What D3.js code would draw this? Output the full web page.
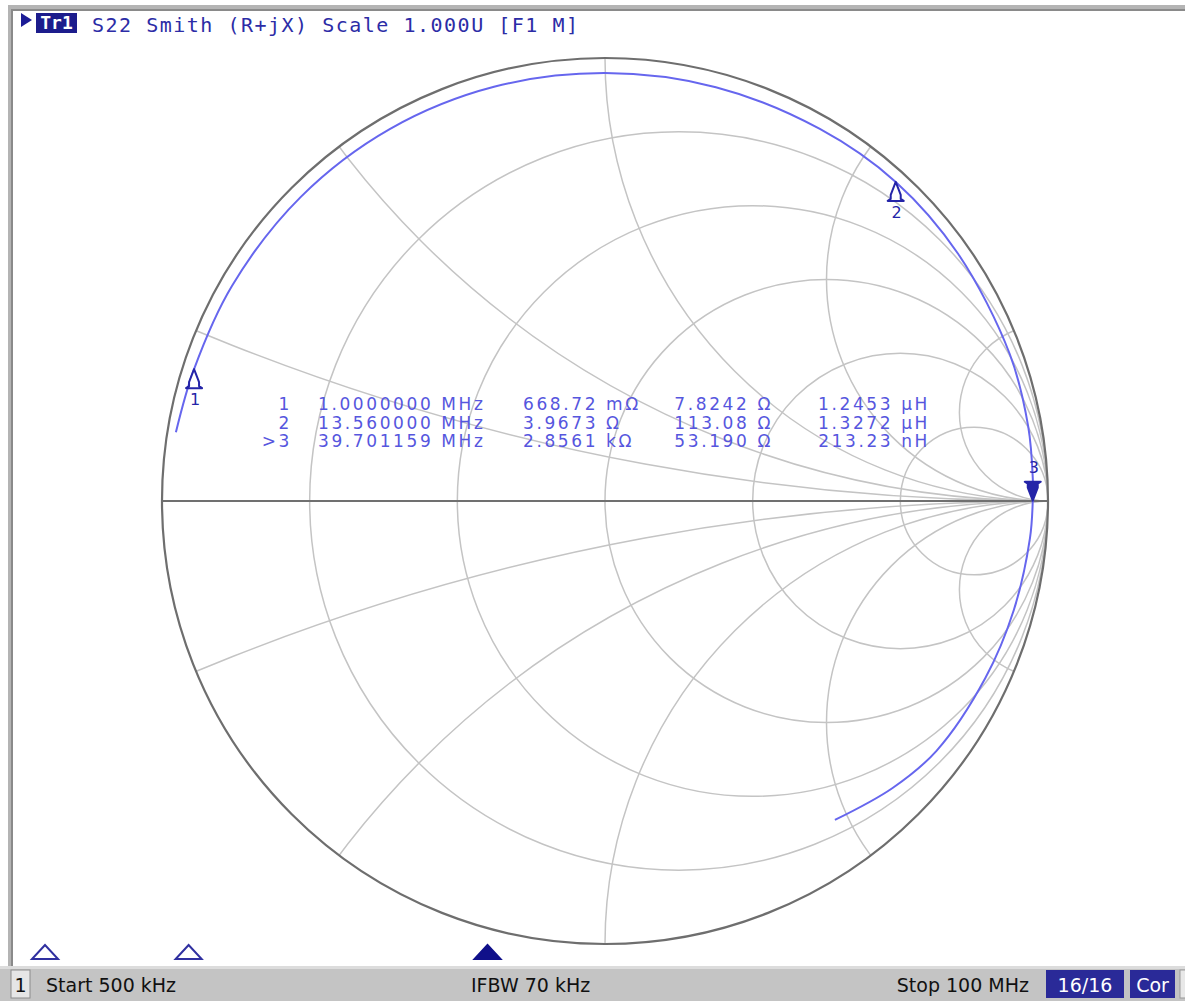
<!DOCTYPE html>
<html><head><meta charset="utf-8">
<script src="https://cdn.jsdelivr.net/npm/d3@7"></script>
<style>body{margin:0;background:#fff;overflow:hidden;} svg{display:block;}</style>
</head><body>
<svg id="c" width="1185" height="1001"></svg>
<script>
// ---------- data ----------
const resistanceCircles = [0.2, 0.5, 1, 2, 5];
const reactanceArcs = [0.2, 0.5, 1, 2, 5];
// trace (reflection coefficient), 500 kHz -> 100 MHz
const traceRe = [-0.9686, -0.9276, -0.8418, -0.6866, -0.4850, -0.2505, 0.0000, 0.2503, 0.4850, 0.6563, 0.7970, 0.9134, 0.9553, 0.9657, 0.9656, 0.9593, 0.9225, 0.8583, 0.7483, 0.6484, 0.5190];
const traceIm = [ 0.1552,  0.2977,  0.4860,  0.6866,  0.8400,  0.9350, 0.9660, 0.9341, 0.8400, 0.7203, 0.5581, 0.3324, 0.1684, 0.0506, 0.0006, -0.0839, -0.2472, -0.4002, -0.5639, -0.6484, -0.7200];
const markerIds = ["1", "2", "3"];
const markerFreqMHz = [1.0, 13.56, 39.701159];
const markerR = [0.66872, 3.9673, 2856.1];
const markerX = [7.8242, 113.08, 53.190];
const markerIdText = ["1", "2", ">3"];
const markerFreqText = ["1.0000000 MHz", "13.560000 MHz", "39.701159 MHz"];
const markerRText = ["668.72 mΩ", "3.9673 Ω", "2.8561 kΩ"];
const markerXText = ["7.8242 Ω", "113.08 Ω", "53.190 Ω"];
const markerLText = ["1.2453 µH", "1.3272 µH", "213.23 nH"];
const activeMarker = 2;
const z0 = 50;
const sweep = [0.5, 100];
const headerText = "S22 Smith (R+jX) Scale 1.000U [F1 M]";
const traceLabel = "Tr1";
const statusLeft = "Start 500 kHz";
const statusMid = "IFBW 70 kHz";
const statusRight = "Stop 100 MHz";
const statusBoxes = ["16/16", "Cor"];

// ---------- drawing ----------
const svg = d3.select("#c");
const W = 1185, H = 1001;
const sx = d3.scaleLinear().domain([-1, 1]).range([162, 1048]);
const sy = d3.scaleLinear().domain([-1, 1]).range([944, 58]);
const fx = d3.scaleLinear().domain(sweep).range([39.3, 1177]);
const rpx = v => sx(v) - sx(0);

svg.append("rect").attr("width", W).attr("height", H).attr("fill", "#fff");

// window frame
svg.append("rect").attr("x", 8).attr("y", 5).attr("width", W - 8).attr("height", 6).attr("fill", "#b4b4b4");
svg.append("rect").attr("x", 8).attr("y", 9).attr("width", W - 8).attr("height", 2).attr("fill", "#8a8a8a");
svg.append("rect").attr("x", 8).attr("y", 5).attr("width", 5).attr("height", 962).attr("fill", "#b4b4b4");
svg.append("rect").attr("x", 11).attr("y", 9).attr("width", 2).attr("height", 958).attr("fill", "#8a8a8a");

// clip to unit circle
svg.append("defs").append("clipPath").attr("id", "uc")
  .append("circle").attr("cx", sx(0)).attr("cy", sy(0)).attr("r", rpx(1));

const grid = svg.append("g").attr("clip-path", "url(#uc)")
  .attr("fill", "none").attr("stroke", "#c4c4c4").attr("stroke-width", 1.5);

grid.selectAll("circle.r").data(resistanceCircles).join("circle").attr("class", "r")
  .attr("cx", r => sx(r / (r + 1))).attr("cy", sy(0)).attr("r", r => rpx(1 / (r + 1)));

const arcs = [];
reactanceArcs.forEach(x => { arcs.push(x); arcs.push(-x); });
grid.selectAll("circle.x").data(arcs).join("circle").attr("class", "x")
  .attr("cx", sx(1)).attr("cy", x => sy(1 / x)).attr("r", x => rpx(Math.abs(1 / x)));

// real axis & outer circle
svg.append("line").attr("x1", sx(-1)).attr("x2", sx(1)).attr("y1", sy(0)).attr("y2", sy(0))
  .attr("stroke", "#707070").attr("stroke-width", 2);
svg.append("circle").attr("cx", sx(0)).attr("cy", sy(0)).attr("r", rpx(1))
  .attr("fill", "none").attr("stroke", "#6e6e6e").attr("stroke-width", 2.2);

// trace
const pts = traceRe.map((re, i) => [re, traceIm[i]]);
const line = d3.line().x(d => sx(d[0])).y(d => sy(d[1])).curve(d3.curveCatmullRom.alpha(0.5));
svg.append("path").attr("d", line(pts)).attr("fill", "none")
  .attr("stroke", "#6666ee").attr("stroke-width", 2);

// markers on trace
const mCol = "#2424a8";
function gamma(R, X) {
  const a = R / z0, b = X / z0;
  const nr = a - 1, ni = b, dr = a + 1, di = b;
  const d = dr * dr + di * di;
  return [(nr * dr + ni * di) / d, (ni * dr - nr * di) / d];
}
const upShape = "M0,0 L-5,13 L-5,17 L-8,19 L8,19 L5,17 L5,13 Z";
const downShape = "M0,0 L-5,-13 L-5,-17 L-8,-19 L8,-19 L5,-17 L5,-13 Z";
markerIds.forEach((id, i) => {
  const g = gamma(markerR[i], markerX[i]);
  const px = sx(g[0]), py = sy(g[1]);
  const act = i === activeMarker;
  const gg = svg.append("g").attr("transform", `translate(${px},${py})`);
  gg.append("path").attr("d", act ? downShape : upShape)
    .attr("fill", act ? mCol : "#fff").attr("stroke", mCol).attr("stroke-width", 2).attr("stroke-linejoin", "round");
  gg.append("text").attr("x", 1).attr("y", act ? -28 : 36).attr("text-anchor", "middle")
    .attr("font-family", "DejaVu Sans").attr("font-size", 16).attr("fill", mCol).text(id);
});

// marker readout
const ro = svg.append("g").attr("font-family", "DejaVu Sans").attr("font-size", 17)
  .attr("fill", "#5656de").attr("letter-spacing", 2.6);
const rowY = [410, 428.5, 447];
markerIds.forEach((id, i) => {
  ro.append("text").attr("x", 292).attr("y", rowY[i]).attr("text-anchor", "end").text(markerIdText[i]);
  ro.append("text").attr("x", 318).attr("y", rowY[i]).text(markerFreqText[i]);
  ro.append("text").attr("x", 523).attr("y", rowY[i]).text(markerRText[i]);
  ro.append("text").attr("x", 773).attr("y", rowY[i]).attr("text-anchor", "end").text(markerXText[i]);
  ro.append("text").attr("x", 930).attr("y", rowY[i]).attr("text-anchor", "end").text(markerLText[i]);
});

// header
svg.append("path").attr("d", "M21,13 L32,20 L21,27 Z").attr("fill", "#1c1c96");
svg.append("rect").attr("x", 36).attr("y", 13).attr("width", 41).attr("height", 20).attr("fill", "#1c1c8c");
svg.append("text").attr("x", 56.5).attr("y", 29).attr("text-anchor", "middle")
  .attr("font-family", "DejaVu Sans Mono").attr("font-size", 18).attr("font-weight", "bold")
  .attr("fill", "#fff").text(traceLabel);
svg.append("text").attr("x", 92).attr("y", 32).attr("font-family", "DejaVu Sans Mono")
  .attr("font-size", 20).attr("letter-spacing", 1.5).attr("fill", "#2c2ca6").text(headerText);

// frequency-axis marker indicators
markerIds.forEach((id, i) => {
  const x = fx(markerFreqMHz[i]);
  const act = i === activeMarker;
  svg.append("path").attr("d", `M${x},945 L${x - 13},959 L${x + 13},959 Z`)
    .attr("fill", act ? "#10108a" : "#fff").attr("stroke", act ? "#10108a" : "#3030a0").attr("stroke-width", 2);
});

// status bar
svg.append("rect").attr("x", 0).attr("y", 966).attr("width", W).attr("height", 35).attr("fill", "#c4c4c4");
svg.append("rect").attr("x", 0).attr("y", 966).attr("width", W).attr("height", 3).attr("fill", "#dcdcdc");
svg.append("rect").attr("x", 11).attr("y", 970).attr("width", 19).attr("height", 28)
  .attr("fill", "#e6e6e6").attr("stroke", "#8c8c8c");
const st = svg.append("g").attr("font-family", "DejaVu Sans").attr("font-size", 19).attr("fill", "#111");
st.append("text").attr("x", 20.5).attr("y", 992).attr("text-anchor", "middle").text("1");
st.append("text").attr("x", 46).attr("y", 992).text(statusLeft);
st.append("text").attr("x", 471).attr("y", 992).text(statusMid);
st.append("text").attr("x", 1029).attr("y", 992).attr("text-anchor", "end").text(statusRight);
const boxX = [1046, 1130], boxW = [78, 45];
statusBoxes.forEach((t, i) => {
  svg.append("rect").attr("x", boxX[i]).attr("y", 970).attr("width", boxW[i]).attr("height", 28).attr("fill", "#2a2a98");
  svg.append("text").attr("x", boxX[i] + boxW[i] / 2).attr("y", 992).attr("text-anchor", "middle")
    .attr("font-family", "DejaVu Sans").attr("font-size", 19).attr("fill", "#fff").text(t);
});
svg.append("rect").attr("x", 1180).attr("y", 970).attr("width", 6).attr("height", 28).attr("fill", "#e8e8e8").attr("stroke", "#999");
</script>
</body></html>
